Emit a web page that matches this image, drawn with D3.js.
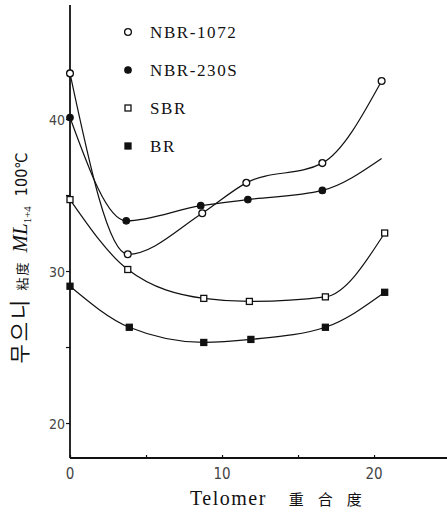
<!DOCTYPE html>
<html>
<head>
<meta charset="utf-8">
<script src="https://cdn.jsdelivr.net/npm/d3@7"></script>
<style>
  body { margin: 0; background: #fff; }
  svg { display: block; }
</style>
</head>
<body>
<script>
// telomer degree of polymerisation (x) and Mooney viscosity (y)
let nbr1072_x = [0, 3.8, 8.7, 11.6, 16.6, 20.5]
let nbr1072_y = [43.0, 31.1, 33.8, 35.8, 37.1, 42.5]
let nbr230s_x = [0, 3.7, 8.6, 11.7, 16.6, 20.5]
let nbr230s_y = [40.1, 33.3, 34.3, 34.7, 35.3, 37.4]
let sbr_x = [0, 3.8, 8.8, 11.8, 16.8, 20.7]
let sbr_y = [34.7, 30.1, 28.2, 28.0, 28.3, 32.5]
let br_x = [0, 3.9, 8.8, 11.9, 16.8, 20.7]
let br_y = [29.0, 26.3, 25.3, 25.5, 26.3, 28.6]

let series_names = ['NBR-1072', 'NBR-230S', 'SBR', 'BR']
let y_ticks = [20, 25, 30, 35, 40]
let y_tick_labels = ['20', '', '30', '', '40']
let x_ticks = [0, 5, 10, 15, 20]
let x_tick_labels = ['0', '', '10', '', '20']

let width = 447
let height = 512

let series = [
  { name: series_names[0], xs: nbr1072_x, ys: nbr1072_y, shape: 'circle', fill: false },
  { name: series_names[1], xs: nbr230s_x, ys: nbr230s_y, shape: 'circle', fill: true, hideLast: true },
  { name: series_names[2], xs: sbr_x, ys: sbr_y, shape: 'square', fill: false },
  { name: series_names[3], xs: br_x, ys: br_y, shape: 'square', fill: true }
]

let x = d3.scaleLinear().domain([0, 24.8]).range([70, 447])
let y = d3.scaleLinear().domain([17.7, 47.5]).range([458, 5])

const svg = d3.select('body').append('svg')
    .attr('width', width)
    .attr('height', height)
    .attr('viewBox', [0, 0, width, height])

// axes
let yAxis = g => g
    .attr('transform', `translate(${x(0)},0)`)
    .call(d3.axisLeft(y).tickValues(y_ticks).tickSize(4).tickFormat((d, i) => y_tick_labels[i]))
    .call(g => g.select('.domain').remove())
    .call(g => g.selectAll('.tick line').attr('stroke', '#111').attr('stroke-width', 1.2))
    .call(g => g.selectAll('.tick text')
      .attr('font-family', '"DejaVu Sans Condensed", "Liberation Sans Narrow", sans-serif')
      .attr('font-size', 14).attr('fill', '#444').attr('x', -5).attr('dy', '0.36em'))

let xAxis = g => g
    .attr('transform', `translate(0,${y(17.7)})`)
    .call(d3.axisTop(x).tickValues(x_ticks).tickSize(3).tickFormat(() => ''))
    .call(g => g.select('.domain').remove())
    .call(g => g.selectAll('.tick line').attr('stroke', '#111').attr('stroke-width', 1.2))

svg.append('g').call(yAxis)
svg.append('g').call(xAxis)

svg.append('g')
  .selectAll('text')
  .data(x_ticks.filter((d, i) => x_tick_labels[i] !== ''))
  .join('text')
    .attr('x', d => x(d))
    .attr('y', 479)
    .attr('text-anchor', 'middle')
    .attr('font-family', '"DejaVu Sans Condensed", "Liberation Sans Narrow", sans-serif')
    .attr('font-size', 15)
    .attr('fill', '#444')
    .text(d => x_tick_labels[x_ticks.indexOf(d)])

svg.append('line')
    .attr('x1', x(0)).attr('x2', x(0))
    .attr('y1', y(47.5)).attr('y2', y(17.7))
    .attr('stroke', '#111').attr('stroke-width', 1.8)
svg.append('line')
    .attr('x1', x(0)).attr('x2', x(24.8))
    .attr('y1', y(17.7)).attr('y2', y(17.7))
    .attr('stroke', '#111').attr('stroke-width', 1.8)

// curves
let line = d3.line()
    .x(d => x(d[0]))
    .y(d => y(d[1]))
    .curve(d3.curveMonotoneX)

svg.append('g')
  .selectAll('path')
  .data(series)
  .join('path')
    .attr('d', s => line(s.xs.map((v, i) => [v, s.ys[i]])))
    .attr('fill', 'none')
    .attr('stroke', '#111')
    .attr('stroke-width', 1.2)

function marker(g, shape, fill) {
  if (shape === 'circle') {
    g.append('circle').attr('r', fill ? 3.2 : 3.4)
      .attr('fill', fill ? '#111' : '#fff')
      .attr('stroke', '#111').attr('stroke-width', 1.3)
  } else {
    g.append('rect').attr('x', -3).attr('y', -3).attr('width', 6).attr('height', 6)
      .attr('fill', fill ? '#111' : '#fff')
      .attr('stroke', '#111').attr('stroke-width', 1.3)
  }
}

for (let s of series) {
  s.xs.forEach((v, i) => {
    if (s.hideLast && i === s.xs.length - 1) return
    let g = svg.append('g').attr('transform', `translate(${x(v)},${y(s.ys[i])})`)
    marker(g, s.shape, s.fill)
  })
}

// legend
series.forEach((s, i) => {
  let ly = 32 + i * 38
  let g = svg.append('g').attr('transform', `translate(128,${ly})`)
  marker(g, s.shape, s.fill)
  svg.append('text')
    .attr('x', 150)
    .attr('y', ly)
    .attr('dy', '0.36em')
    .attr('font-family', '"Liberation Serif", "DejaVu Serif", serif')
    .attr('font-size', 17)
    .attr('letter-spacing', 1.6)
    .attr('fill', '#111')
    .text(s.name)
})

// axis titles
let xt = svg.append('text')
    .attr('x', 190)
    .attr('y', 505)
    .attr('font-family', '"Liberation Serif", "DejaVu Serif", serif')
    .attr('font-size', 20)
    .attr('letter-spacing', 1.5)
    .attr('fill', '#111')
xt.append('tspan').text('Telomer')
xt.append('tspan')
    .attr('dx', 22)
    .attr('font-family', '"Noto Sans CJK SC", sans-serif')
    .attr('font-size', 15)
    .attr('letter-spacing', 14)
    .text('重合度')

let yt = svg.append('text')
    .attr('transform', 'translate(27,258) rotate(-90)')
    .attr('text-anchor', 'middle')
    .attr('fill', '#111')
    .attr('font-family', '"Noto Sans CJK KR", sans-serif')
yt.append('tspan').attr('font-size', 21).attr('letter-spacing', 3).text('무으니')
yt.append('tspan').attr('font-size', 13).attr('dx', 6).attr('letter-spacing', 2).text('粘度')
yt.append('tspan').attr('dx', 8).attr('font-size', 21)
    .attr('font-family', '"Liberation Serif", serif').attr('font-style', 'italic').text('ML')
yt.append('tspan').attr('font-size', 11).attr('dy', 4)
    .attr('font-family', '"Liberation Serif", serif').text('1+4')
yt.append('tspan').attr('font-size', 16).attr('dy', -4).attr('dx', 10)
    .attr('font-family', '"DejaVu Sans Condensed", sans-serif').text('100℃')
</script>
</body>
</html>
